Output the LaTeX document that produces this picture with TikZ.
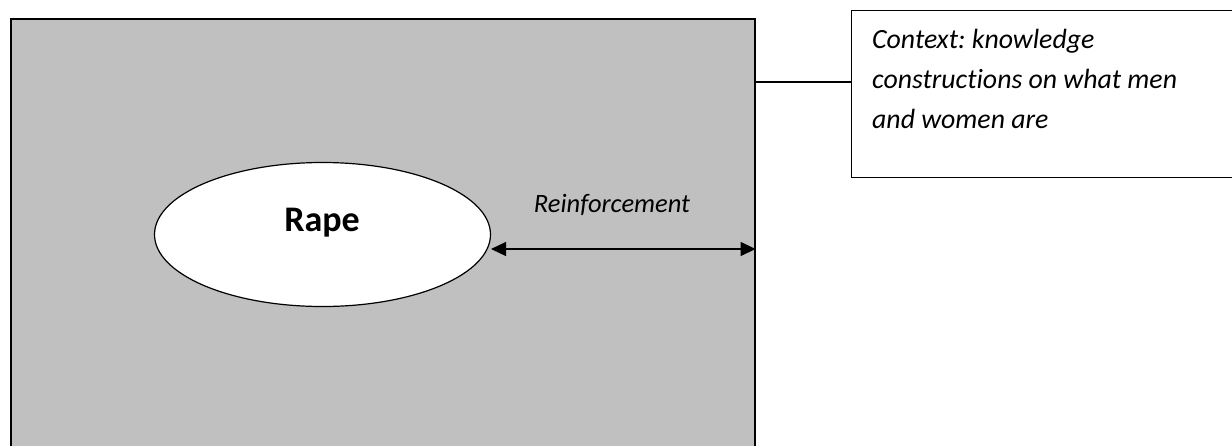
\documentclass[tikz,border=0pt]{standalone}
\usepackage{fontspec}
\setmainfont{Carlito}[Ligatures=NoCommon]
\frenchspacing
\usetikzlibrary{arrows.meta,shapes.geometric}
\definecolor{fieldgray}{RGB}{192,192,192}
\tikzset{
  fieldbox/.style={draw=black, line width=1.6pt, fill=fieldgray, rectangle, inner sep=0pt, anchor=north west},
  ctxbox/.style={draw=black, line width=1.3pt, fill=white, rectangle, inner sep=0pt, anchor=north west},
  rapeell/.style={draw=black, line width=1.2pt, fill=white, ellipse, inner sep=0pt},
  conn/.style={draw=black, line width=1.2pt},
  reinf/.style={conn, {Triangle[length=15pt,width=14pt]}-{Triangle[length=15pt,width=14pt]}}
}
\begin{document}
\begin{tikzpicture}[x=1pt,y=-1pt]
\useasboundingbox (0,0) rectangle (1232,445);
\clip (0,0) rectangle (1232,445);
% grey field
\node[fieldbox, minimum width=744pt, minimum height=440pt] (field) at (10,18) {};
% context box
\node[ctxbox, minimum width=390pt, minimum height=167pt] (ctx) at (851,10) {};
\node[anchor=base west, align=left, inner sep=0pt,
      font=\fontsize{27.8}{40}\selectfont\itshape] (ctxtext) at (872,128)
  {Context: knowledge\\constructions on what men\\and women are};
% ellipse
\node[rapeell, minimum width=336pt, minimum height=144pt] (rape) at (322.5,234.5) {};
\node[font=\fontsize{36}{40}\selectfont\bfseries, inner sep=0pt, anchor=base] (rapetext) at (322,231) {Rape};
% connector field -> context
\coordinate (fieldtop) at (field.north east |- 0,82);
\draw[conn] (fieldtop) -- (ctx.west |- fieldtop);
% reinforcement arrow
\coordinate (arrL) at (491,249);
\draw[reinf] (arrL) -- (field.east |- arrL);
\node[font=\fontsize{26.5}{30}\selectfont\itshape, inner sep=0pt, anchor=base] (reinftext) at (612,212) {Reinforcement};
\end{tikzpicture}
\end{document}
